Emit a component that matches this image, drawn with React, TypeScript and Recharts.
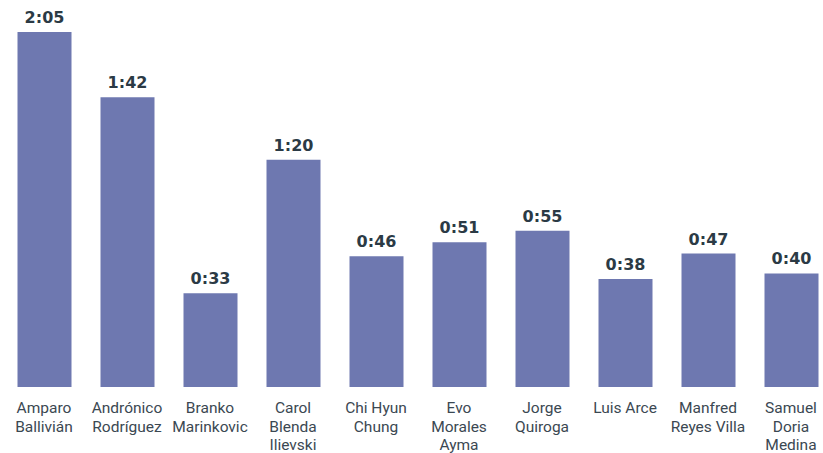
import { BarChart, Bar, XAxis, YAxis, LabelList } from 'recharts';

const CANDIDATES = [
  'Amparo\nBallivián',
  'Andrónico\nRodríguez',
  'Branko\nMarinkovic',
  'Carol\nBlenda\nIlievski',
  'Chi Hyun\nChung',
  'Evo\nMorales\nAyma',
  'Jorge\nQuiroga',
  'Luis Arce',
  'Manfred\nReyes Villa',
  'Samuel\nDoria\nMedina',
];

// speaking time in seconds
const SECONDS = [125, 102, 33, 80, 46, 51, 55, 38, 47, 40];

const data = CANDIDATES.map((name, i) => ({ name, seconds: SECONDS[i] }));

const fmt = (v: any) => {
  const s = Number(v);
  const m = Math.floor(s / 60);
  const r = s % 60;
  return `${m}:${r < 10 ? '0' : ''}${r}`;
};

const NameTick = (props: any) => {
  const { x, y, payload } = props;
  const lines = String(payload.value).split('\n');
  return (
    <text
      x={x}
      y={y}
      textAnchor="middle"
      fill="#3b4852"
      fontFamily="Roboto, sans-serif"
      fontSize={15.5}
    >
      {lines.map((l, i) => (
        <tspan key={i} x={x} y={y + 18 + i * 18.7}>
          {l}
        </tspan>
      ))}
    </text>
  );
};

export default function App() {
  return (
    <div style={{ position: 'absolute', top: 0, left: 0, width: 823, height: 453, overflow: 'hidden', background: '#fff' }}>
      <BarChart
        width={840}
        height={453}
        data={data}
        margin={{ top: 32, right: 7.5, bottom: 6, left: 2.5 }}
      >
        <XAxis
          dataKey="name"
          height={60}
          axisLine={false}
          tickLine={false}
          interval={0}
          tick={<NameTick />}
        />
        <YAxis hide domain={[0, 125]} />
        <Bar dataKey="seconds" fill="#6e78b0" barSize={54} isAnimationActive={false}>
          <LabelList
            dataKey="seconds"
            position="top"
            offset={9}
            formatter={fmt}
            fill="#2b3a45"
            fontFamily="'DejaVu Sans', sans-serif"
            fontWeight={700}
            fontSize={16}
          />
        </Bar>
      </BarChart>
    </div>
  );
}
